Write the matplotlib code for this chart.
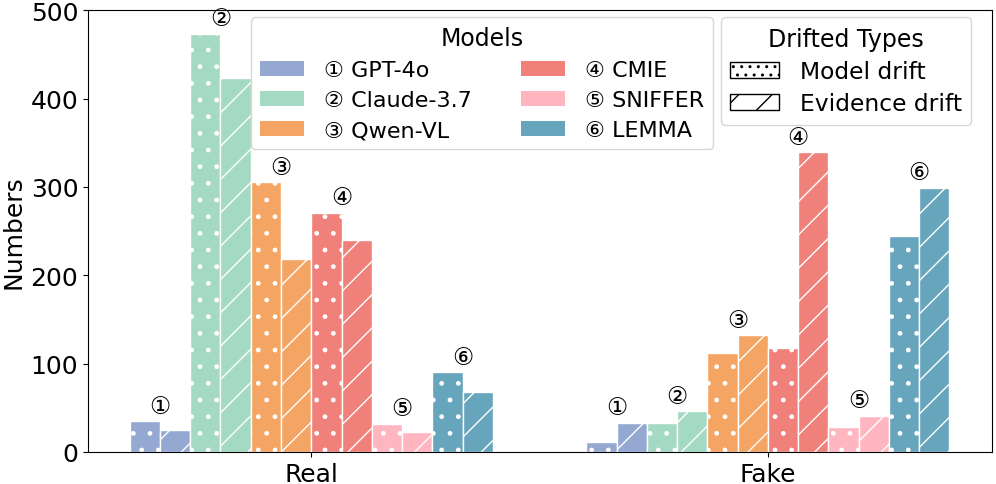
import matplotlib.pyplot as plt
import numpy as np
from matplotlib.patches import Patch

# data
groups = ['Real', 'Fake']
models = ['GPT-4o', 'Claude-3.7', 'Qwen-VL', 'CMIE', 'SNIFFER', 'LEMMA']
marks = ['①', '②', '③', '④', '⑤', '⑥']
colors = ['#95A8D2', '#A4D9C3', '#F4A463', '#F0807A', '#FFB6C1', '#67A5BD']
model_drift = {'Real': [35, 473, 305, 271, 32, 90],
               'Fake': [11, 33, 112, 118, 28, 244]}
evidence_drift = {'Real': [25, 423, 218, 240, 23, 68],
                  'Fake': [33, 46, 132, 339, 41, 299]}

plt.rcParams['hatch.linewidth'] = 1.0

fig, ax = plt.subplots(figsize=(9.96, 4.85), dpi=100)
fig.subplots_adjust(left=0.0884, right=0.996, top=0.977, bottom=0.066)

w = 0.0663
x = np.arange(len(groups))
for gi, g in enumerate(groups):
    for mi in range(len(models)):
        xm = x[gi] + (2 * mi - 5.5) * w
        xe = xm + w
        vm = model_drift[g][mi]
        ve = evidence_drift[g][mi]
        ax.bar(xm, vm, w, color=colors[mi], edgecolor='white', hatch='.', linewidth=1)
        ax.bar(xe, ve, w, color=colors[mi], edgecolor='white', hatch='/', linewidth=1)
        # circled index above each pair
        ax.text((xm + xe) / 2, max(vm, ve) + 4, marks[mi], ha='center', va='bottom', fontsize=17)

ax.set_xlim(-0.489, 1.491)
ax.set_ylim(0, 500)
ax.set_xticks(x)
ax.set_xticklabels(groups)
ax.set_ylabel('Numbers', fontsize=18)
ax.tick_params(labelsize=18)

h1 = [Patch(facecolor=colors[i], label=f'{marks[i]} {models[i]}') for i in range(6)]
leg1 = ax.legend(handles=h1, title='Models', ncol=2, loc='upper left',
                 bbox_to_anchor=(0.18, 0.984), borderaxespad=0, fontsize=16,
                 title_fontsize=17, handlelength=2.0, handletextpad=0.9,
                 columnspacing=2.2, labelspacing=0.45)
ax.add_artist(leg1)
h2 = [Patch(facecolor='white', edgecolor='black', hatch='..', label='Model drift'),
      Patch(facecolor='white', edgecolor='black', hatch='/', label='Evidence drift')]
ax.legend(handles=h2, title='Drifted Types', loc='upper right',
          bbox_to_anchor=(0.977, 0.984), borderaxespad=0, fontsize=16.8,
          title_fontsize=17, handlelength=2.1, handletextpad=0.9, labelspacing=0.4)

plt.savefig('out.png')
